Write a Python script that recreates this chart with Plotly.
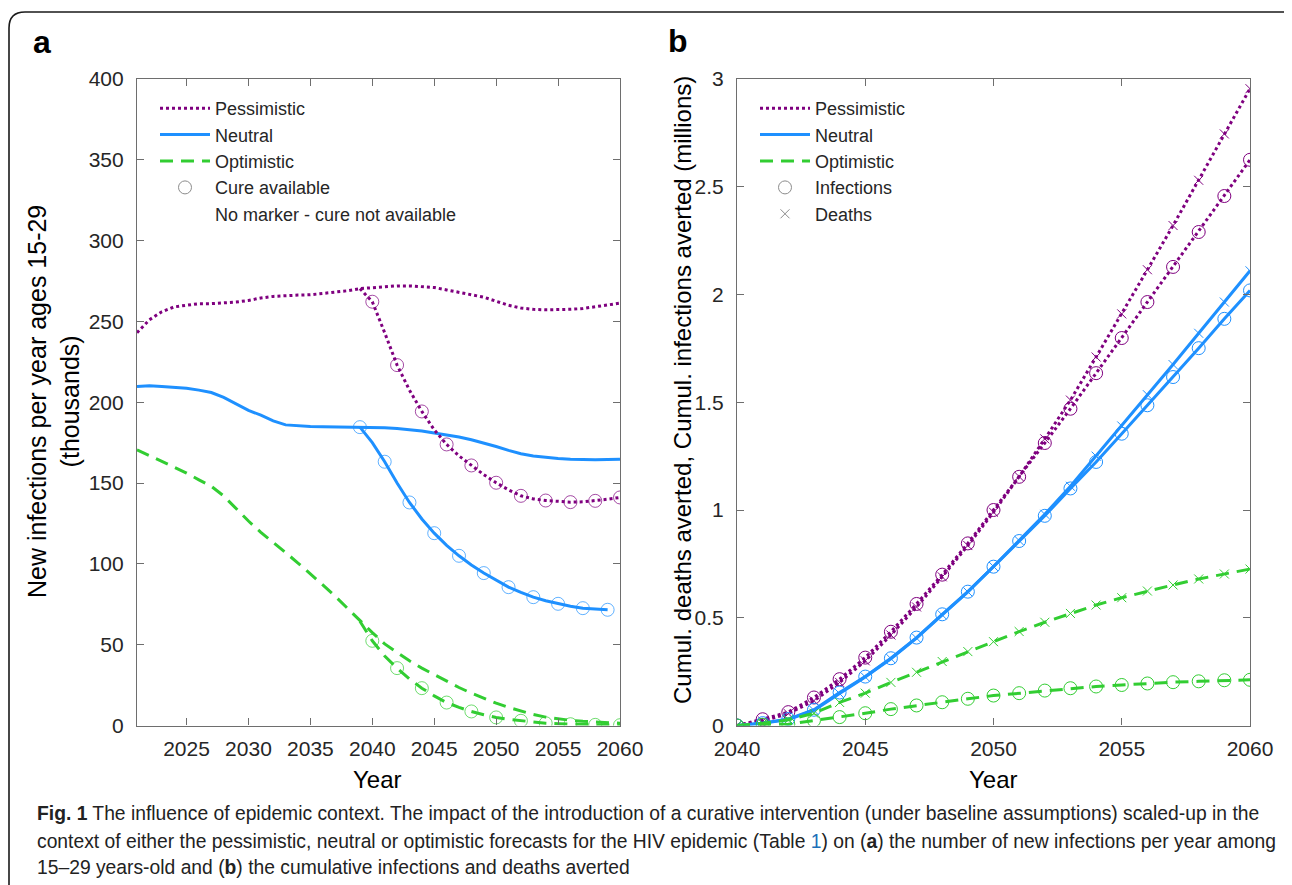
import plotly.graph_objects as go

# ---------------- data: panel a (new infections, thousands) ----------------
years_a = list(range(2021, 2061))
pess_base = [243, 251, 256, 259, 260, 261, 261, 261.5, 262, 263,
             264.5, 265.5, 266, 266.3, 266.5, 267.3, 268, 269, 270.3, 271,
             271.5, 272, 272, 271.7, 271, 269.5, 268, 266.5, 265, 262.5,
             260, 258.3, 257.5, 257.2, 257.2, 257.5, 258, 259, 260, 261.3]
neut_base = [209.8, 210.2, 209.8, 209.2, 208.7, 207.5, 206, 203, 199, 195,
             192, 188.5, 186, 185.3, 185, 184.8, 184.7, 184.6, 184.6, 184.4,
             184.2, 183.8, 183.2, 182.2, 181, 179.8, 178.5, 176.8, 174.8, 172.6,
             170.2, 168.1, 166.8, 165.8, 165.2, 164.7, 164.4, 164.4, 164.6, 164.8]
opt_base = [170.6, 167, 163.3, 159.7, 156.2, 152, 148, 142, 134, 126.5,
            119.5, 113.5, 107, 100.5, 94, 87, 80, 72.5, 64.5, 57.5,
            50.5, 45, 40, 35.5, 31.4, 27.3, 23.5, 20, 16.8, 13.8,
            11.2, 8.8, 6.8, 5.2, 4, 3.2, 2.6, 2.1, 1.7, 1.4]

pess_cure_years = list(range(2039, 2061))
pess_cure = [270.3, 262.2, 243, 223, 207.5, 194.3, 183, 173.9, 166.8, 160.9, 155.2,
             150.2, 145.8, 142.1, 140.2, 139.2, 138.6, 138.2, 138.4, 139, 140, 141.1]
neut_cure_years = list(range(2039, 2060))
neut_cure = [184.6, 175, 163.2, 150, 138, 127.8, 119, 111.5, 105, 99.3, 94.3,
             89.7, 85.6, 82.3, 79.4, 77.2, 75.3, 73.8, 72.6, 71.9, 71.6]
opt_cure_years = list(range(2039, 2061))
opt_cure = [64.5, 52.4, 43, 35.5, 28.8, 23.1, 18.3, 14.2, 11.2, 8.7, 6.7,
            5, 3.8, 2.9, 2.1, 1.4, 1.1, 0.8, 0.6, 0.4, 0.3, 0.2]

# ---------------- data: panel b (cumulative averted, millions) ----------------
years_b = list(range(2040, 2061))
pess_inf = [0, 0.029, 0.062, 0.13, 0.215, 0.315, 0.435, 0.564, 0.70, 0.845, 1.0,
            1.154, 1.311, 1.47, 1.635, 1.798, 1.965, 2.128, 2.29, 2.457, 2.625]
pess_death = [0, 0.02, 0.055, 0.115, 0.2, 0.3, 0.42, 0.55, 0.69, 0.835, 0.99,
              1.155, 1.33, 1.51, 1.71, 1.91, 2.115, 2.32, 2.53, 2.745, 2.955]
neut_inf = [0, 0.011, 0.03, 0.073, 0.153, 0.227, 0.312, 0.408, 0.516, 0.621, 0.737,
            0.856, 0.973, 1.1, 1.223, 1.354, 1.486, 1.617, 1.751, 1.887, 2.019]
neut_death = [0, 0.01, 0.028, 0.07, 0.148, 0.225, 0.31, 0.405, 0.513, 0.62, 0.738,
              0.858, 0.98, 1.11, 1.25, 1.39, 1.535, 1.675, 1.82, 1.965, 2.11]
opt_inf = [0, 0.003, 0.006, 0.023, 0.039, 0.057, 0.076, 0.093, 0.108, 0.124, 0.139,
           0.15, 0.162, 0.173, 0.181, 0.188, 0.195, 0.201, 0.205, 0.21, 0.212]
opt_death = [0, 0.01, 0.026, 0.057, 0.107, 0.15, 0.2, 0.247, 0.297, 0.343, 0.389,
             0.436, 0.479, 0.52, 0.559, 0.593, 0.624, 0.652, 0.68, 0.703, 0.726]

y_ticks_a = [0, 50, 100, 150, 200, 250, 300, 350, 400]
x_ticks_a = [2025, 2030, 2035, 2040, 2045, 2050, 2055, 2060]
y_ticks_b = [0, 0.5, 1, 1.5, 2, 2.5, 3]
y_ticklabels_b = ["0", "0.5", "1", "1.5", "2", "2.5", "3"]
x_ticks_b = [2040, 2045, 2050, 2055, 2060]

# ---------------- styles ----------------
W, H = 1292, 885
OFF = 8  # page body margin
PURPLE = "#7f007f"
BLUE = "#1e90ff"
GREEN = "#32cd32"
GRAY = "#8c8c8c"
AXC = "#6e6e6e"
TXT = "#262626"
FONT = "Liberation Sans, Arial, Helvetica, sans-serif"
CAPFONT = "Liberation Sans, Arial, sans-serif"
DOT = "3px,3px"
DASH = "13px,8px"

def px(x):
    return (x - OFF) / W

def py(y):
    return 1 - (y - OFF) / H

fig = go.Figure()

def sizes(years, parity, s):
    return [s if (yr % 2) == parity else 0 for yr in years]

# panel a baselines
for yy, col, dash, name in [(pess_base, PURPLE, DOT, "Pessimistic"),
                            (neut_base, BLUE, "solid", "Neutral"),
                            (opt_base, GREEN, DASH, "Optimistic")]:
    fig.add_trace(go.Scatter(x=years_a, y=yy, mode="lines", name=name,
                             line=dict(color=col, width=3, dash=dash),
                             xaxis="x", yaxis="y", legend="legend"))
# panel a cure scenarios
for xx, yy, col, dash, par in [(pess_cure_years, pess_cure, PURPLE, DOT, 0),
                               (neut_cure_years, neut_cure, BLUE, "solid", 1),
                               (opt_cure_years, opt_cure, GREEN, DASH, 0)]:
    fig.add_trace(go.Scatter(x=xx, y=yy, mode="lines+markers", showlegend=False,
                             line=dict(color=col, width=3, dash=dash),
                             marker=dict(symbol="circle-open", size=sizes(xx, par, 13),
                                         color=col, line=dict(width=1, color=col)),
                             xaxis="x", yaxis="y"))
# legend-only entries panel a
fig.add_trace(go.Scatter(x=[None], y=[None], mode="markers", name="Cure available",
                         marker=dict(symbol="circle-open", size=13, color=GRAY,
                                     line=dict(width=1, color=GRAY)),
                         xaxis="x", yaxis="y", legend="legend"))
fig.add_trace(go.Scatter(x=[None], y=[None], mode="markers",
                         name="No marker - cure not available",
                         marker=dict(size=1, color="rgba(0,0,0,0)"),
                         xaxis="x", yaxis="y", legend="legend"))

# panel b
for inf, dth, col, dash in [(pess_inf, pess_death, PURPLE, DOT),
                            (neut_inf, neut_death, BLUE, "solid"),
                            (opt_inf, opt_death, GREEN, DASH)]:
    fig.add_trace(go.Scatter(x=years_b, y=inf, mode="lines+markers", showlegend=False,
                             line=dict(color=col, width=3, dash=dash),
                             marker=dict(symbol="circle-open", size=13, color=col,
                                         line=dict(width=1, color=col)),
                             xaxis="x2", yaxis="y2"))
    fig.add_trace(go.Scatter(x=years_b, y=dth, mode="lines+markers", showlegend=False,
                             line=dict(color=col, width=3, dash=dash),
                             marker=dict(symbol="x-thin", size=9, color=col,
                                         line=dict(width=1, color=col)),
                             xaxis="x2", yaxis="y2"))
for col, dash, name in [(PURPLE, DOT, "Pessimistic"), (BLUE, "solid", "Neutral"),
                        (GREEN, DASH, "Optimistic")]:
    fig.add_trace(go.Scatter(x=[None], y=[None], mode="lines", name=name,
                             line=dict(color=col, width=3, dash=dash),
                             xaxis="x2", yaxis="y2", legend="legend2"))
fig.add_trace(go.Scatter(x=[None], y=[None], mode="markers", name="Infections",
                         marker=dict(symbol="circle-open", size=13, color=GRAY,
                                     line=dict(width=1, color=GRAY)),
                         xaxis="x2", yaxis="y2", legend="legend2"))
fig.add_trace(go.Scatter(x=[None], y=[None], mode="markers", name="Deaths",
                         marker=dict(symbol="x-thin", size=9, color=GRAY,
                                     line=dict(width=1, color=GRAY)),
                         xaxis="x2", yaxis="y2", legend="legend2"))

axis_common = dict(showline=True, linecolor=AXC, linewidth=1.2, mirror="ticks",
                   ticks="inside", ticklen=7, tickcolor=AXC, tickwidth=1.2,
                   showgrid=False, zeroline=False, automargin=False,
                   tickfont=dict(family=FONT, size=21, color=TXT))

legend_common = dict(font=dict(family=FONT, size=18, color=TXT),
                     bgcolor="rgba(0,0,0,0)", borderwidth=0,
                     xanchor="left", yanchor="top", itemwidth=50,
                     tracegroupgap=0, traceorder="normal")

fig.update_layout(
    width=W, height=H,
    margin=dict(l=0, r=0, t=0, b=0, autoexpand=False),
    paper_bgcolor="white", plot_bgcolor="white",
    xaxis=dict(domain=[px(137), px(620)], range=[2021, 2060], tickvals=x_ticks_a,
               anchor="y", ticklabelstandoff=4, **axis_common),
    yaxis=dict(domain=[py(725.5), py(79)], range=[0, 400], tickvals=y_ticks_a,
               anchor="x", ticklabelstandoff=8, **axis_common),
    xaxis2=dict(domain=[px(737), px(1250)], range=[2040, 2060], tickvals=x_ticks_b,
                anchor="y2", ticklabelstandoff=4, **axis_common),
    yaxis2=dict(domain=[py(725.5), py(79)], range=[0, 3], tickvals=y_ticks_b,
                ticktext=y_ticklabels_b, anchor="x2", ticklabelstandoff=8, **axis_common),
    legend=dict(x=px(155), y=py(90), **legend_common),
    legend2=dict(x=px(755), y=py(90), **legend_common),
    showlegend=True,
)

annots = [
    dict(text="<b>a</b>", x=px(42), y=py(42), font=dict(size=32)),
    dict(text="<b>b</b>", x=px(678), y=py(41), font=dict(size=32)),
    dict(text="Year", x=px(378), y=py(779), font=dict(size=24)),
    dict(text="Year", x=px(993), y=py(779), font=dict(size=24)),
    dict(text="New infections per year ages 15-29<br>(thousands)", x=px(54), y=py(402),
         textangle=-90, font=dict(size=25)),
    dict(text="Cumul. deaths averted, Cumul. infections averted (millions)",
         x=px(683), y=py(390), textangle=-90, font=dict(size=24)),
]
for a in annots:
    f = dict(family=FONT, color="black")
    f.update(a.pop("font"))
    fig.add_annotation(xref="paper", yref="paper", showarrow=False,
                       xanchor="center", yanchor="middle", font=f, **a)

caption = [
    ("<b>Fig. 1</b> The influence of epidemic context. The impact of the introduction of a "
     "curative intervention (under baseline assumptions) scaled-up in the", 813),
    ("context of either the pessimistic, neutral or optimistic forecasts for the HIV epidemic "
     "(Table <span style='color:#1c6fb8'>1</span>) on (<b>a</b>) the number of new infections "
     "per year among", 841),
    ("15–29 years-old and (<b>b</b>) the cumulative infections and deaths averted", 867),
]
for txt, yy in caption:
    fig.add_annotation(xref="paper", yref="paper", showarrow=False, text=txt,
                       x=px(35), y=py(yy), xanchor="left", yanchor="middle",
                       font=dict(family=CAPFONT, size=19.3, color="#222222"))

# rounded frame around the figure panel
L, T, R, B, r = px(9), py(12), px(1298), py(905), 16
rx, ry = r / W, r / H
path = (f"M {L},{B} L {L},{T - ry} Q {L},{T} {L + rx},{T} "
        f"L {R - rx},{T} Q {R},{T} {R},{T - ry} L {R},{B}")
fig.add_shape(type="path", path=path, xref="paper", yref="paper",
              line=dict(color="#1a1a1a", width=1.6))

fig.write_html("out.html")
